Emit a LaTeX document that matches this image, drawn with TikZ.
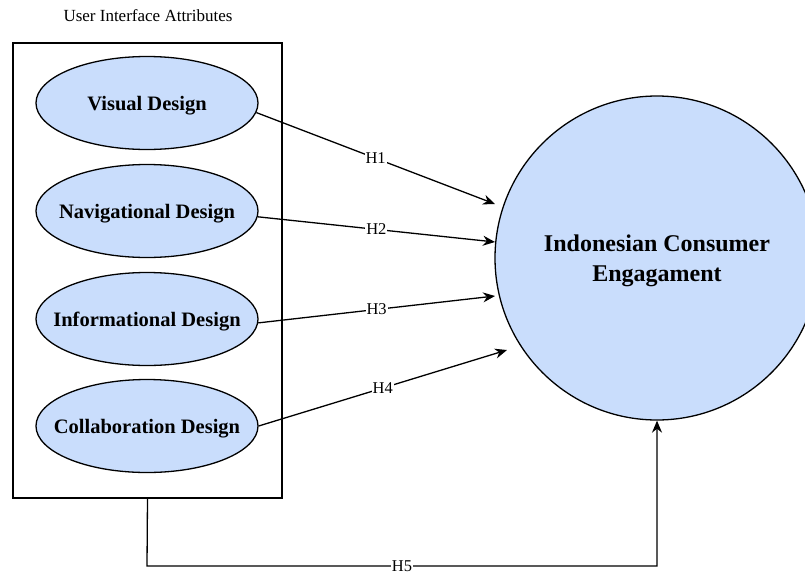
\documentclass[tikz,border=0pt]{standalone}
\usepackage{fontspec}
\setmainfont{Liberation Serif}
\usetikzlibrary{shapes.geometric,arrows.meta}
\definecolor{attrfill}{RGB}{201,221,252}
\tikzset{
  attr/.style={ellipse, draw, line width=1.3pt, fill=attrfill,
    minimum width=222pt, minimum height=93pt, inner sep=0pt, text depth=0pt,
    font=\fontsize{20.5}{24}\selectfont\bfseries},
  target/.style={circle, draw, line width=1.3pt, fill=attrfill,
    minimum size=324pt, inner sep=0pt, align=center, text depth=0pt,
    font=\fontsize{24}{30}\selectfont\bfseries},
  link/.style={line width=1.3pt, -{Stealth[length=12pt,width=10pt]}},
  hlabel/.style={fill=white, inner sep=1pt, font=\fontsize{16.5}{18}\selectfont},
}
% text centred on a point without widening its shape
\newcommand{\ctext}[1]{\makebox[0pt][c]{#1}}
\begin{document}
\begin{tikzpicture}[x=1pt,y=-1pt]
  \useasboundingbox (0,0) rectangle (805,573);
  % group title and frame
  \node (title) at (148,16) {\fontsize{17}{20}\selectfont User Interface Attributes};
  \node (frame) [draw, line width=1.3pt, minimum width=269pt, minimum height=455pt,
    inner sep=0pt] at (147.5,270.5) {};
  % attribute ellipses
  \node (vis) [attr] at (147,103) {\ctext{Visual Design}};
  \node (nav) [attr] at (147,211) {\ctext{Navigational Design}};
  \node (inf) [attr] at (147,319) {\ctext{Informational Design}};
  \node (col) [attr] at (147,426) {\ctext{Collaboration Design}};
  % outcome
  \node (eng) [target] at (657,258) {Indonesian Consumer\\Engagament};
  % arrow end points
  \coordinate (e1) at (495,204);
  \coordinate (e2) at (495,242);
  \coordinate (e3) at (495,296);
  \coordinate (e4) at (507,350);
  \coordinate (b5) at (147,566);
  \coordinate (c5) at (657,566);
  \draw[link] (vis.-5) -- node[hlabel, pos=0.5] {H1} (e1);
  \draw[link] (nav.-3) -- node[hlabel, pos=0.5] {H2} (e2);
  \draw[link] (inf.-2) -- node[hlabel, pos=0.5] {H3} (e3);
  \draw[link] (col.east) -- node[hlabel, pos=0.5] {H4} (e4);
  \draw[link] (frame.south) -- (b5) -- node[hlabel, pos=0.5] {H5} (c5) -- (eng.south);
\end{tikzpicture}
\end{document}
